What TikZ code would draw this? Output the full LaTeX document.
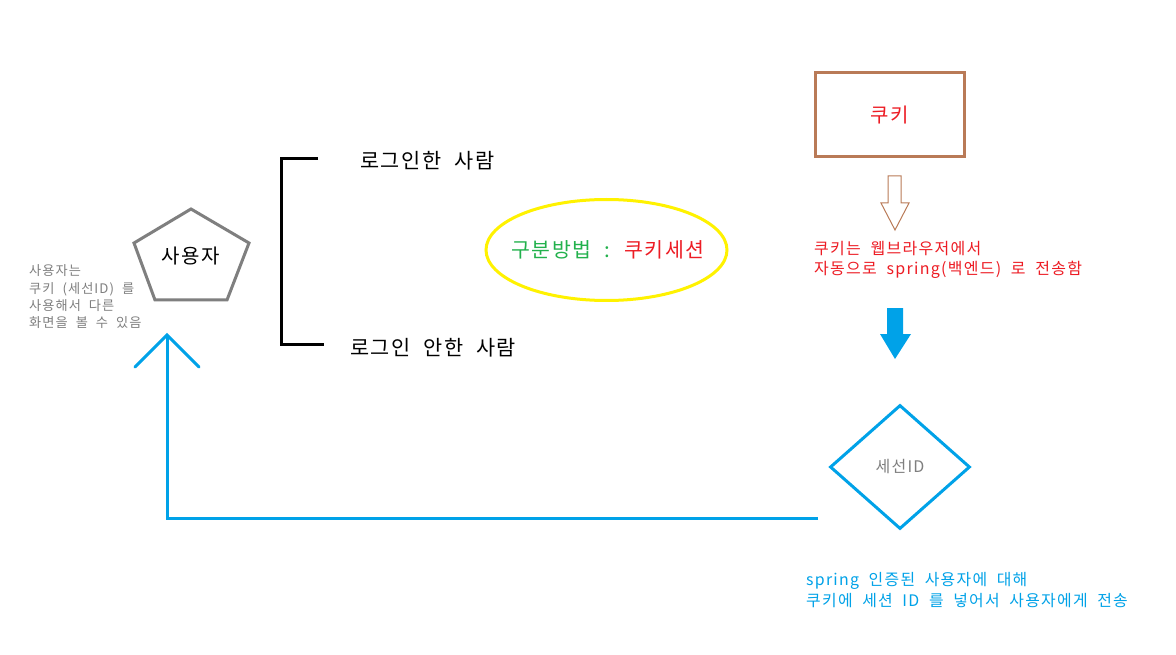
\documentclass[tikz,border=0pt]{standalone}
\usepackage{fontspec}
\setmainfont{Noto Sans CJK KR}[WordSpace=2.0, LetterSpace=8]
\usetikzlibrary{shapes.geometric,calc}
\definecolor{pgray}{HTML}{7F7F7F}
\definecolor{pblue}{HTML}{00A2E8}
\definecolor{pyellow}{HTML}{FFF200}
\definecolor{pgreen}{HTML}{22B14C}
\definecolor{pred}{HTML}{ED1C24}
\definecolor{pbrown}{HTML}{B97A57}
\newcommand{\fs}[2]{\fontsize{#1}{#2}\selectfont}
\tikzset{
  thick3/.style={line width=3pt},
  lbl/.style={inner sep=0pt, anchor=west},
}
\begin{document}
\begin{tikzpicture}[x=1pt,y=-1pt]
\useasboundingbox (0,0) rectangle (1176,655);
\fill[white] (0,0) rectangle (1176,655);

% user pentagon
\draw[thick3, pgray, line join=miter] (191,209) -- (249,243) -- (227,300) -- (155,300) -- (134,243) -- cycle;
\node[inner sep=0pt, font=\fs{20}{24}] (user) at (191,256) {사용자};

% note left
\node[lbl, text=pgray, align=left, font=\fs{13.2}{17.3}] (note) at (29,297)
  {사용자는\\쿠키 (세선ID) 를\\사용해서 다른\\화면을 볼 수 있음};

% bracket
\coordinate (brT) at (318,159);
\coordinate (brB) at (324,344);
\draw[thick3, black] (brT) -- (281,159) -- (281,344) -- (brB);
\node[lbl, font=\fs{20.8}{24}] (login) at (360,161) {로그인한 사람};
\node[lbl, font=\fs{20.8}{24}] (nologin) at (350,348) {로그인 안한 사람};

% ellipse
\node[ellipse, draw=pyellow, thick3, minimum width=241pt, minimum height=101pt, inner sep=0pt] (method) at (606.5,250) {};
\node[inner sep=0pt, font=\fs{20.5}{24}] (methodtext) at (608,250)
  {\textcolor{pgreen}{구분방법 :} \textcolor{pred}{쿠키세션}};

% cookie box
\node[draw=pbrown, thick3, minimum width=149pt, minimum height=84pt, inner sep=0pt, font=\fs{20}{24}] (cookie) at (889.5,115)
  {\textcolor{pred}{쿠키}};

% hollow arrow
\draw[pbrown, line width=1pt, line join=miter] (888,176) -- (901,176) -- (901,203) -- (909,203) -- (895,230) -- (881,203) -- (888,203) -- cycle;

% red text
\node[lbl, text=pred, align=left, font=\fs{16}{20}] (auto) at (814,260)
  {쿠키는 웹브라우저에서\\자동으로 spring(백엔드) 로 전송함};

% solid blue arrow
\fill[pblue] (887,308) -- (903,308) -- (903,334) -- (911,334) -- (895,359) -- (880,334) -- (887,334) -- cycle;

% diamond
\node[diamond, draw=pblue, thick3, minimum width=140pt, minimum height=124pt, aspect=1.13, inner sep=0pt, font=\fs{16}{20}] (sid) at (900,467)
  {\textcolor{pgray}{세선ID}};

% blue text
\node[lbl, text=pblue, align=left, font=\fs{15.9}{21}] (send) at (806,590.5)
  {spring 인증된 사용자에 대해\\쿠키에 세션 ID 를 넣어서 사용자에게 전송};

% return connector
\coordinate (retStart) at (818,518);
\coordinate (retTip) at (167,335);
\draw[thick3, pblue] (retStart) -| (retTip);
\draw[thick3, pblue, line cap=round] ($(retTip)+(-32,32)$) -- (retTip) -- ($(retTip)+(32,32)$);
\end{tikzpicture}
\end{document}
